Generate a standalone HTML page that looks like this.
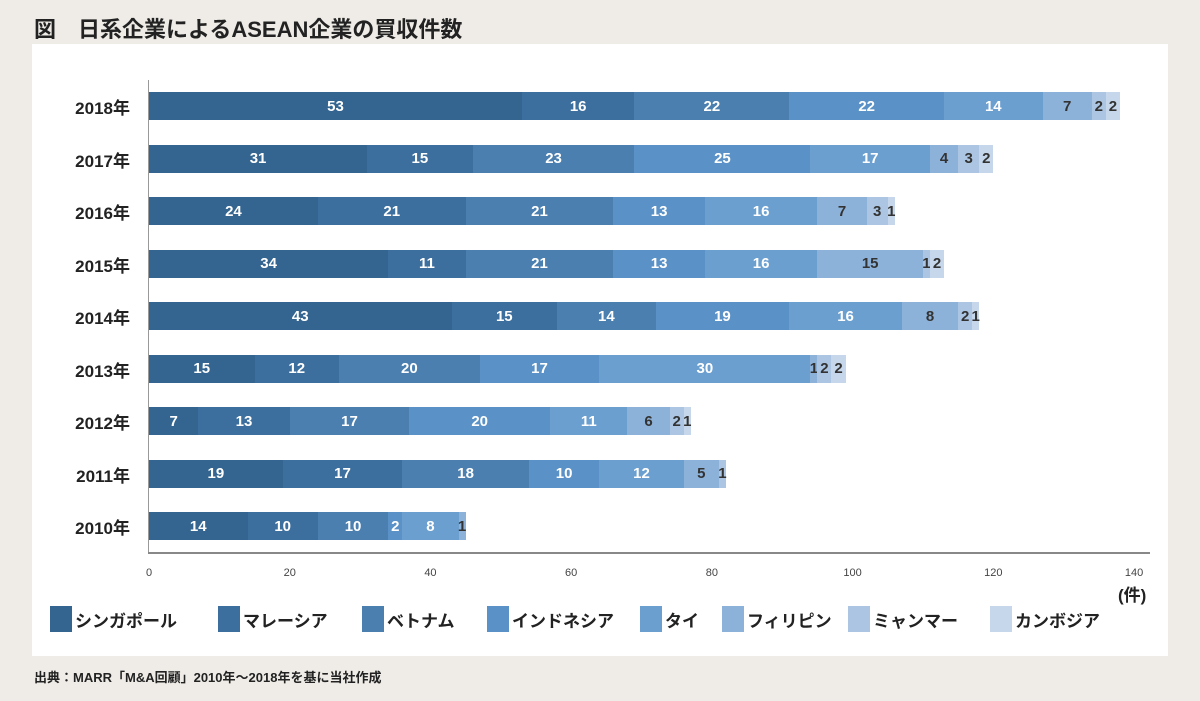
<!DOCTYPE html><html><head><meta charset="utf-8"><style>
body{margin:0;width:1200px;height:701px;background:#efece7;position:relative;overflow:hidden;font-family:"Liberation Sans Narrow","Liberation Sans","Noto Sans CJK JP",sans-serif;color:#222}
.a{position:absolute}
.t{font-size:22px;font-weight:bold;left:34px;top:12px;font-family:"Liberation Sans","Noto Sans CJK JP",sans-serif;letter-spacing:0px}
.panel{left:32px;top:44px;width:1136px;height:612px;background:#fff}
.yl{font-size:17px;font-weight:bold;width:100px;text-align:right;left:30px}
.seg{position:absolute;height:28px;display:flex;align-items:center;justify-content:center;font-size:15px;font-weight:bold}
.xl{font-size:11px;color:#444;width:40px;text-align:center;top:567px}
.lg{top:606px;font-size:17px;font-weight:bold;display:flex;align-items:center}
.lg i{display:inline-block;width:22px;height:26px;margin-right:3px}
.src{left:34px;top:667px;font-size:13px;font-weight:bold;font-family:"Liberation Sans","Noto Sans CJK JP",sans-serif}
</style></head><body>
<div class="a t">図　日系企業によるASEAN企業の買収件数</div>
<div class="a panel"></div>
<div class="a" style="left:148px;top:80px;width:1px;height:473px;background:#999"></div>
<div class="a" style="left:148px;top:552px;width:1002px;height:2px;background:#888"></div>
<div id="bars"></div>
<script>
var C=["#336590","#3d6f9e","#4a7fb0","#5a91c6","#6b9fd0","#8db2da","#abc5e3","#c6d7eb"];
var D=[[2018,[53,16,22,22,14,7,2,2]],[2017,[31,15,23,25,17,4,3,2]],[2016,[24,21,21,13,16,7,3,1]],[2015,[34,11,21,13,16,15,1,2]],[2014,[43,15,14,19,16,8,2,1]],[2013,[15,12,20,17,30,1,2,2]],[2012,[7,13,17,20,11,6,2,1]],[2011,[19,17,18,10,12,5,1,0]],[2010,[14,10,10,2,8,1,0,0]]];
var s=7.036,h="";
D.forEach(function(r,i){var cy=106+i*52.5,x=149;
h+='<div class="a yl" style="top:'+(cy-12)+'px">'+r[0]+'年</div>';
r[1].forEach(function(v,j){if(!v)return;var w=v*s;
h+='<div class="seg" style="left:'+x+'px;top:'+(cy-14)+'px;width:'+w+'px;background:'+C[j]+';color:'+(j<5?'#fff':'#333')+'">'+v+'</div>';x+=w;});});
for(var k=0;k<=7;k++)h+='<div class="a xl" style="left:'+(129+k*20*s)+'px">'+(k*20)+'</div>';
h+='<div class="a" style="left:1118px;top:581px;font-size:17px;font-weight:bold">(件)</div>';
var L=["シンガポール","マレーシア","ベトナム","インドネシア","タイ","フィリピン","ミャンマー","カンボジア"],LX=[50,218,362,487,640,722,848,990];
L.forEach(function(n,j){h+='<div class="a lg" style="left:'+LX[j]+'px"><i style="background:'+C[j]+'"></i>'+n+'</div>';});
document.getElementById("bars").innerHTML=h;
</script>
<div class="a src">出典：MARR「M&amp;A回顧」2010年～2018年を基に当社作成</div>
</body></html>
